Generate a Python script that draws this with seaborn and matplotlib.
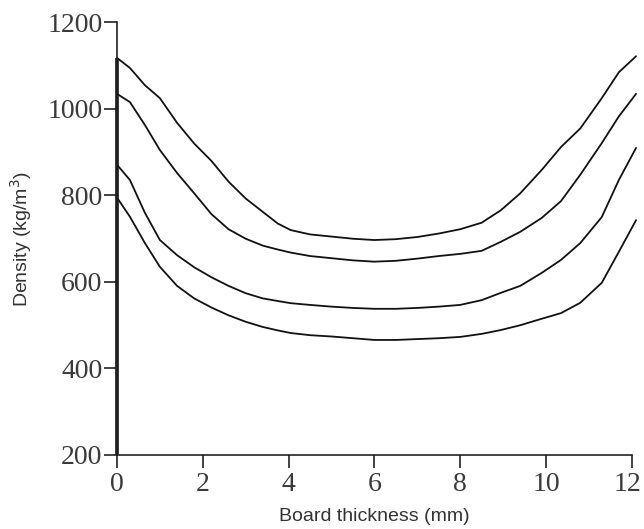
# Perfil de densidad a través del espesor del tablero (4 paneles)
import seaborn as sns
import matplotlib.pyplot as plt
import matplotlib.transforms as mtransforms
import pandas as pd

sns.set_style('ticks')
plt.rcParams['font.family'] = ['Liberation Sans', 'DejaVu Sans']

# posiciones leídas (mm)
espesor = [0, 0.3, 0.65, 1.0, 1.4, 1.8, 2.2, 2.6, 3.0, 3.4, 3.75, 4.05, 4.5, 5.0,
           5.5, 6.0, 6.5, 7.0, 7.5, 8.0, 8.5, 8.95, 9.4, 9.9, 10.35, 10.8, 11.3,
           11.7, 12.1]

# densidad (kg/m3) de cada tablero
tablero_a = [1118, 1095, 1055, 1025, 968, 920, 880, 832, 793, 762, 735, 720, 710, 705,
             700, 697, 699, 704, 712, 722, 737, 766, 805, 859, 912, 955, 1025, 1085, 1122]
tablero_b = [1035, 1016, 963, 905, 852, 805, 757, 722, 700, 684, 675, 668, 660, 655,
             650, 647, 649, 654, 660, 665, 672, 693, 716, 748, 787, 848, 921, 983, 1035]
tablero_c = [871, 836, 760, 697, 662, 634, 611, 591, 574, 562, 556, 551, 547, 543,
             540, 538, 538, 540, 543, 547, 558, 575, 591, 621, 651, 690, 750, 836, 910]
tablero_d = [795, 751, 690, 635, 591, 562, 541, 523, 508, 496, 488, 482, 477, 474,
             470, 466, 466, 468, 470, 473, 480, 489, 500, 515, 528, 552, 598, 670, 743]

# los perfiles parten de la base del eje (trazo vertical en x=0)
BASE = 200

series = {'A': tablero_a, 'B': tablero_b, 'C': tablero_c, 'D': tablero_d}
df = pd.DataFrame([{'tablero': k, 'x': x, 'densidad': d}
                   for k, dens in series.items() for x, d in zip(espesor, dens)])

fig = plt.figure(figsize=(6.44, 5.29), dpi=100)
ax = fig.add_axes([0.1817, 0.1399, 0.981 - 0.1817, 0.9575 - 0.1399])

sns.lineplot(data=df, x='x', y='densidad', hue='tablero', units='tablero',
             estimator=None, palette=['#111111'] * 4, linewidth=1.3,
             legend=False, ax=ax, clip_on=False)
ax.vlines(espesor[0], BASE, max(d[0] for d in series.values()),
          color='#111111', linewidth=2.6, clip_on=False)

ax.set_xlim(0, 12)
ax.set_ylim(200, 1200)
ax.set_xticks(range(0, 13, 2))
ax.set_yticks(range(200, 1201, 200))
sns.despine(ax=ax)
for lado in ['left', 'bottom']:
    ax.spines[lado].set_linewidth(1.2)
    ax.spines[lado].set_color('#222222')

ax.tick_params(axis='both', direction='out', length=9.5, width=1.2, color='#222222')
ax.tick_params(axis='y', pad=1)
ax.tick_params(axis='x', pad=3)
for lab in ax.get_xticklabels() + ax.get_yticklabels():
    lab.set_fontfamily(['Liberation Serif', 'DejaVu Serif'])
    lab.set_fontsize(20)
    lab.set_color('#3a3a3a')
# el "12" queda pegado al borde derecho
ultimo = ax.get_xticklabels()[-1]
ultimo.set_transform(ultimo.get_transform() +
                     mtransforms.ScaledTranslation(-3 / 72, 0, fig.dpi_scale_trans))

ax.set_xlabel('Board thickness (mm)', fontsize=14, color='#333333')
ax.set_ylabel('Density (kg/m$^3$)', fontsize=14, color='#333333')
ax.xaxis.set_label_coords(0.5, -0.122)
ax.yaxis.set_label_coords(-0.161, 0.5)

plt.savefig('out.png', dpi=100)
plt.close()
